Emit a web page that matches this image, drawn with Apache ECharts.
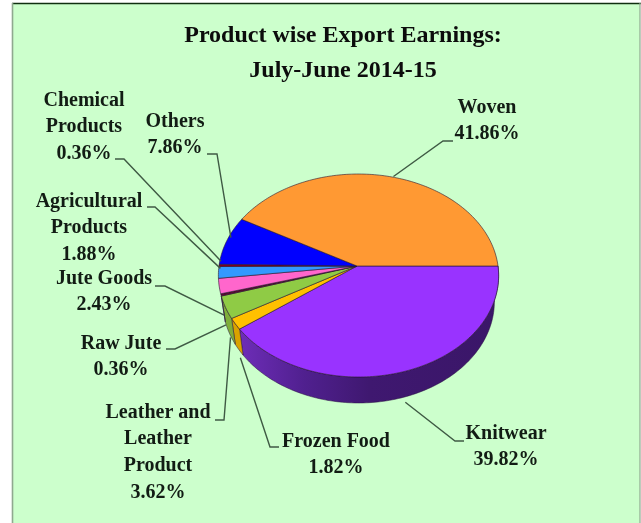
<!DOCTYPE html>
<html><head><meta charset="utf-8">
<style>html,body{margin:0;padding:0;background:#fff}#c{width:641px;height:523px;filter:blur(0.4px)}</style>
<script src="https://cdn.jsdelivr.net/npm/echarts@6/dist/echarts.min.js"></script>
</head><body><div id="c"></div>
<script>
// ---- data (clockwise from the right-hand edge of the pie)
const categories = ['Knitwear','Frozen Food','Leather and\nLeather\nProduct','Raw Jute','Jute Goods','Agricultural\nProducts','Chemical\nProducts','Others','Woven'];
const shares = [39.82,1.82,3.62,0.36,2.43,1.88,0.36,7.86,41.86];
const titleLines = ['Product wise Export Earnings:','July-June 2014-15'];

// ---- styles
const topColors = ['#9933FF','#FFC000','#8FCB45','#5A0A30','#FF66CC','#3399FF','#800020','#0000FF','#FF9933'];
const wallColors = [null,'#D9A200','#7FAE3A','#4A0A28','#D050A8','#2A7FD8','#600018','#0000C0','#D07A20'];

// ---- layout
const pie = {cx:357, cy:266, a:139.5, b:100.6, k:0.0936, m:0.0107, depth:26, floorScale:0.97, wallEnd:163/180*Math.PI};
const labelCentres = [[506,420],[336,428],[158,399],[121,330],[104,265],[89,188],[84,87],[175,108],[487,94]];
const labelLineHeight = 26.8;
const tipOffsets = [[0,31],[5,34],[5,30],[5,30],[5,29],[2,-4],[2,-4],[4,-3],[4,0]];
const elbows = [[[455,441],[464,441]],[[270,447],[279,447]],[[224,420],[215,420]],[[175,349],[166,349]],[[165,286],[155,286]],[[155,207],[147,207]],[[124,159],[115,159]],[[217,154],[207,154]],[[443,141],[453,141]]];

// ---- helpers
let running = 0;
const rows = shares.map((v,i)=>{const r=[running,v,i];running+=v;return r;});
const total = running;
const angle = p => p/total*Math.PI*2;
function project(t){
  const x=Math.cos(t), y=Math.sin(t), w=1-pie.k*y-pie.m*x;
  return [pie.cx+pie.a*x/w, pie.cy+pie.b*y/w];
}
function arc(t0,t1){
  const n=Math.max(2,Math.ceil((t1-t0)/0.02)), pts=[];
  for(let i=0;i<=n;i++) pts.push(project(t0+(t1-t0)*i/n));
  return pts;
}
function wallItem(params,api){
  const s=api.value(0), v=api.value(1), i=api.value(2);
  const t0=angle(s), t1=Math.min(angle(s+v),pie.wallEnd);
  if(t0>=pie.wallEnd) return {type:'group',children:[]};
  const upper=arc(t0,t1);
  const lower=upper.map(p=>[pie.cx+(p[0]-pie.cx)*pie.floorScale,p[1]+pie.depth]).reverse();
  const fill = i===0
    ? new echarts.graphic.LinearGradient(0,0,1,0,[{offset:0,color:'#6E2DB8'},{offset:0.25,color:'#50208F'},{offset:0.5,color:'#3F1870'},{offset:1,color:'#3A1668'}])
    : wallColors[i];
  return {type:'polygon',shape:{points:upper.concat(lower)},style:{fill,stroke:'#2a1040',lineWidth:0.5}};
}
function topItem(params,api){
  const s=api.value(0), v=api.value(1), i=api.value(2);
  const pts=[[pie.cx,pie.cy]].concat(arc(angle(s),angle(s+v)));
  return {type:'polygon',shape:{points:pts},style:{fill:topColors[i],stroke:'#2a1530',lineWidth:0.6}};
}
function labelItem(params,api){
  const s=api.value(0), v=api.value(1), i=api.value(2);
  const tip=project(angle(s+v/2));
  const start=[tip[0]+tipOffsets[i][0],tip[1]+tipOffsets[i][1]];
  const c=labelCentres[i];
  return {type:'group',children:[
    {type:'polyline',shape:{points:[start].concat(elbows[i])},style:{fill:null,stroke:'#3F5A44',lineWidth:1.4}},
    {type:'text',x:c[0],y:c[1],style:{
      text:categories[i]+'\n'+v.toFixed(2)+'%',
      align:'center',verticalAlign:'top',lineHeight:labelLineHeight,
      font:'bold 20px "Liberation Serif"',fill:'#121C14'}}
  ]};
}
const chart=echarts.init(document.getElementById('c'),null,{renderer:'canvas'});
chart.setOption({
  animation:false,
  backgroundColor:'#FFFFFF',
  title:{text:titleLines.join('\n'),left:338,top:13,textAlign:'center',
    textStyle:{fontFamily:'Liberation Serif',fontWeight:'bold',fontSize:24,lineHeight:35,color:'#0C0C0C'}},
  graphic:[
    {type:'rect',z:-10,shape:{x:13,y:3,width:627,height:520},style:{fill:'#CCFFCC'}},
    {type:'line',z:-9,shape:{x1:12,y1:3.5,x2:641,y2:3.5},style:{stroke:'#103010',lineWidth:1.4}},
    {type:'line',z:-9,shape:{x1:12.5,y1:3,x2:12.5,y2:523},style:{stroke:'#8FA88F',lineWidth:1.6}},
    {type:'line',z:-9,shape:{x1:640,y1:3,x2:640,y2:523},style:{stroke:'#8FA88F',lineWidth:1.2}}
  ],
  series:[
    {type:'custom',coordinateSystem:'none',data:rows,renderItem:wallItem,silent:true,z:2},
    {type:'custom',coordinateSystem:'none',data:rows,renderItem:topItem,silent:true,z:3},
    {type:'custom',coordinateSystem:'none',data:rows,renderItem:labelItem,silent:true,z:4}
  ]
});
</script></body></html>
